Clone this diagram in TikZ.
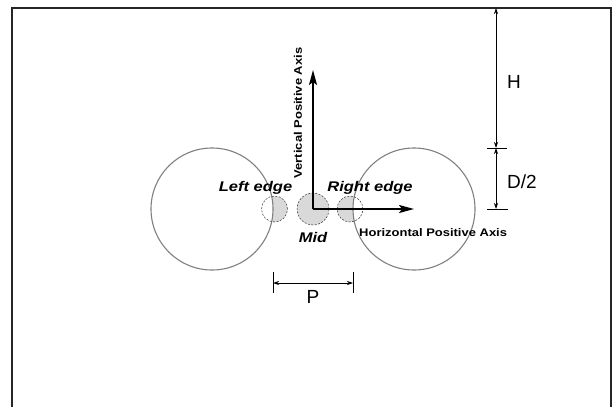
\documentclass[tikz,border=0pt]{standalone}
\usepackage{fontspec}
\setmainfont{Liberation Sans}
\newfontfamily\lblfont[FakeStretch=1.18]{Liberation Sans}
\usetikzlibrary{arrows.meta}
\begin{document}
\begin{tikzpicture}
  [x=1pt,y=-1pt,
   frame/.style={draw=black!85,line width=1.4pt},
   wheel/.style={circle,draw=black!50,line width=1.1pt,minimum size=122pt,inner sep=0pt},
   probe/.style={circle,draw=black!80,line width=0.5pt,dash pattern=on 2pt off 1.5pt,minimum size=26pt,inner sep=0pt},
   axis/.style={line width=1.8pt,-{Stealth[length=15pt,width=8pt,inset=3pt]}},
   dimline/.style={line width=0.7pt,{Stealth[length=6pt,width=4pt]}-{Stealth[length=6pt,width=4pt]}},
   tick/.style={line width=0.7pt},
   edgelbl/.style={font=\lblfont\fontsize{14}{16}\selectfont\bfseries\itshape,inner sep=0pt},
   axislbl/.style={font=\lblfont\fontsize{11}{13}\selectfont\bfseries,inner sep=0pt},
   dimlbl/.style={font=\fontsize{19}{21}\selectfont,inner sep=0pt}]
  \useasboundingbox (0,0) rectangle (615,407);

  % frame, open at the bottom
  \draw[frame] (12,407) -- (12,8) -- (611,8) -- (611,407);

  % contact patches (filled part outside the wheel)
  \begin{scope}
    \clip (274.5,209) circle (13);
    \fill[black!15,even odd rule] (274.5,209) circle (13) (212,209) circle (61);
  \end{scope}
  \begin{scope}
    \clip (350,209) circle (13);
    \fill[black!15,even odd rule] (350,209) circle (13) (414,209) circle (61);
  \end{scope}

  \node[wheel] (lwheel) at (212,209) {};
  \node[wheel] (rwheel) at (414,209) {};
  \node[probe] (lprobe) at (274.5,209) {};
  \node[probe] (rprobe) at (350,209) {};
  \node[probe,fill=black!15,minimum size=32pt] (mprobe) at (313,209) {};

  % axes
  \coordinate (origin) at (313,209);
  \coordinate (vtip) at (313,70);
  \coordinate (htip) at (414,209);
  \draw[axis] (origin) -- (vtip);
  \draw[axis] (origin) -- (htip);

  \node[axislbl,rotate=90] (vlbl) at (298,113) {Vertical Positive Axis};
  \node[axislbl,anchor=base west] (hlbl) at (359,236) {Horizontal Positive Axis};
  \node[edgelbl,anchor=base] (llbl) at (255.5,191) {Left edge};
  \node[edgelbl,anchor=base] (rlbl) at (370,191) {Right edge};
  \node[edgelbl,anchor=base] (mlbl) at (313,242) {Mid};

  % dimension P
  \coordinate (p1t) at (273,272);
  \coordinate (p1b) at (273,293);
  \coordinate (p2t) at (353,272);
  \coordinate (p2b) at (353,293);
  \coordinate (p1) at (273,283);
  \coordinate (p2) at (353,283);
  \draw[tick] (p1t) -- (p1b);
  \draw[tick] (p2t) -- (p2b);
  \draw[dimline] (p1) -- (p2);
  \node[dimlbl,anchor=base] (plbl) at (313,303) {P};

  % dimensions H and D/2
  \coordinate (htop) at (496,8);
  \coordinate (hmid) at (496,148);
  \coordinate (hbot) at (496,209);
  \coordinate (t1a) at (487,148);
  \coordinate (t1b) at (507,148);
  \coordinate (t2a) at (487,209);
  \coordinate (t2b) at (508,209);
  \draw[dimline] (htop) -- (hmid);
  \draw[dimline] (hmid) -- (hbot);
  \draw[tick] (t1a) -- (t1b);
  \draw[tick] (t2a) -- (t2b);
  \node[dimlbl,anchor=base west] (hdim) at (507,88) {H};
  \node[dimlbl,anchor=base west] (ddim) at (507,188) {D/2};
\end{tikzpicture}
\end{document}
